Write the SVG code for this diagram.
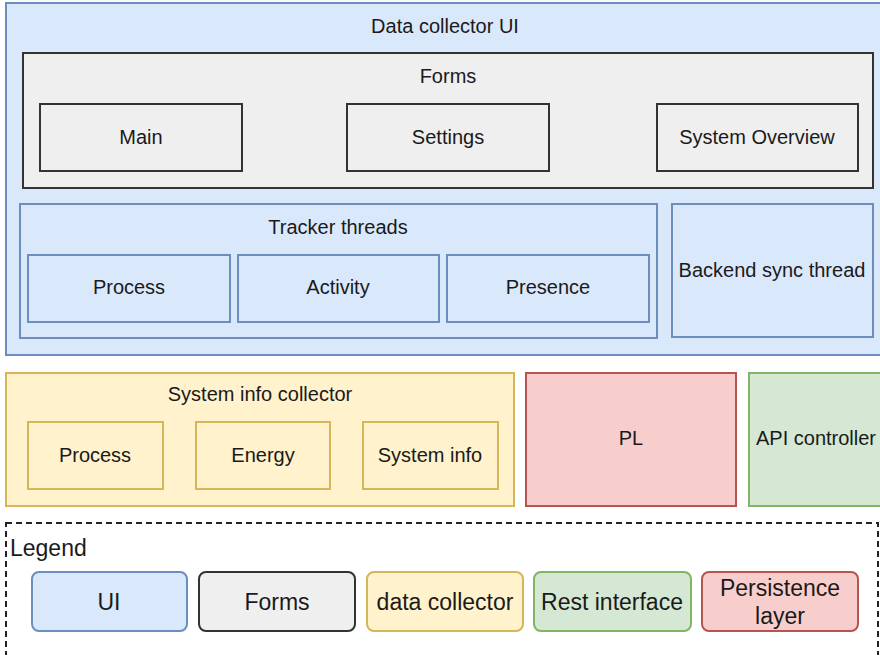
<svg xmlns="http://www.w3.org/2000/svg" width="880" height="655" viewBox="0 0 880 655">
<style>
text{font-family:"Liberation Sans",Arial,sans-serif;font-size:20px;fill:#1a1a1a;text-anchor:middle}
.big{font-size:23px}
.ui{fill:#dae8fc;stroke:#6c8ebf;stroke-width:2}
.fm{fill:#efefef;stroke:#333;stroke-width:2}
.dc{fill:#fff2cc;stroke:#d6b656;stroke-width:2}
.pl{fill:#f8cecc;stroke:#b85450;stroke-width:2}
.ri{fill:#d5e8d4;stroke:#82b366;stroke-width:2}
.lg{fill:none;stroke:#222;stroke-width:2;stroke-dasharray:6 4}
</style>
<rect width="880" height="655" fill="#fff"/>
<g id="data-collector-ui">
<rect class="ui" x="6" y="3" width="880" height="352"/>
<text x="445" y="33">Data collector UI</text>
</g>
<g id="forms">
<rect class="fm" x="23" y="53" width="850" height="135"/>
<text x="448" y="83">Forms</text>
</g>
<g id="main"><rect class="fm" x="40" y="104" width="202" height="67"/><text x="141" y="144">Main</text></g>
<g id="settings"><rect class="fm" x="347" y="104" width="202" height="67"/><text x="448" y="144">Settings</text></g>
<g id="system-overview"><rect class="fm" x="657" y="104" width="201" height="67"/><text x="757" y="144">System Overview</text></g>
<g id="tracker-threads">
<rect class="ui" x="20" y="204" width="637" height="134"/>
<text x="338" y="234">Tracker threads</text>
</g>
<g id="process-thread"><rect class="ui" x="28" y="255" width="202" height="67"/><text x="129" y="294">Process</text></g>
<g id="activity"><rect class="ui" x="238" y="255" width="201" height="67"/><text x="338" y="294">Activity</text></g>
<g id="presence"><rect class="ui" x="447" y="255" width="202" height="67"/><text x="548" y="294">Presence</text></g>
<g id="backend-sync"><rect class="ui" x="672" y="204" width="201" height="133"/><text x="772" y="277">Backend sync thread</text></g>
<g id="system-info-collector">
<rect class="dc" x="6" y="373" width="508" height="133"/>
<text x="260" y="401">System info collector</text>
</g>
<g id="process-dc"><rect class="dc" x="28" y="422" width="135" height="67"/><text x="95" y="462">Process</text></g>
<g id="energy"><rect class="dc" x="196" y="422" width="134" height="67"/><text x="263" y="462">Energy</text></g>
<g id="system-info"><rect class="dc" x="363" y="422" width="135" height="67"/><text x="430" y="462">System info</text></g>
<g id="pl"><rect class="pl" x="526" y="373" width="210" height="133"/><text x="631" y="445">PL</text></g>
<g id="api-controller"><rect class="ri" x="749" y="373" width="140" height="133"/><text x="816" y="445">API controller</text></g>
<g id="legend">
<rect class="lg" x="6" y="523" width="872" height="140"/>
<text class="big" x="10" y="556" style="text-anchor:start">Legend</text>
</g>
<g id="legend-ui"><rect class="ui" x="32" y="572" width="155" height="59" rx="7"/><text class="big" x="109" y="610">UI</text></g>
<g id="legend-forms"><rect class="fm" x="199" y="572" width="156" height="59" rx="7"/><text class="big" x="277" y="610">Forms</text></g>
<g id="legend-dc"><rect class="dc" x="367" y="572" width="156" height="59" rx="7"/><text class="big" x="445" y="610">data collector</text></g>
<g id="legend-rest"><rect class="ri" x="534" y="572" width="157" height="59" rx="7"/><text class="big" x="612" y="610">Rest interface</text></g>
<g id="legend-pl"><rect class="pl" x="702" y="572" width="156" height="59" rx="7"/><text class="big" x="780" y="596">Persistence</text><text class="big" x="780" y="624">layer</text></g>
<g id="connectors"/>
</svg>
